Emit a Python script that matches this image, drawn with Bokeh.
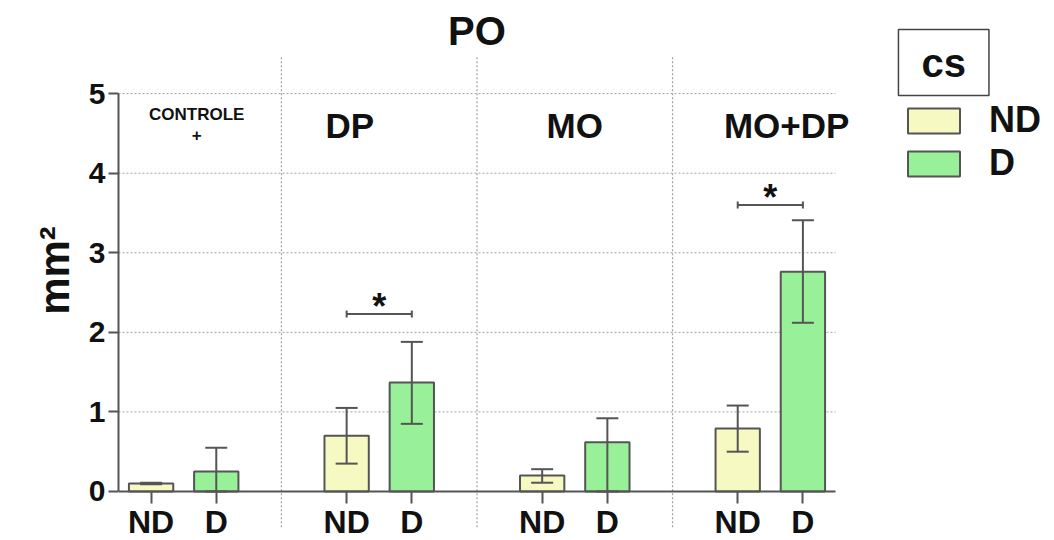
from bokeh.plotting import figure
from bokeh.models import (Range1d, FixedTicker, Whisker, TeeHead, Label,
                          Legend, LegendItem, ColumnDataSource)
from bokeh.embed import file_html
from bokeh.resources import INLINE
from bokeh.core.properties import value

# ---------------- data ----------------
groups = ["CONTROLE\n+", "DP", "MO", "MO+DP"]
conditions = ["ND", "D"]
nd_mean = [0.10, 0.70, 0.20, 0.79]
nd_low = [0.09, 0.35, 0.11, 0.50]
nd_high = [0.11, 1.05, 0.28, 1.08]
d_mean = [0.25, 1.37, 0.62, 2.76]
d_low = [0.00, 0.85, 0.00, 2.12]
d_high = [0.55, 1.88, 0.92, 3.41]
sig_groups = [1, 3]
sig_level = [2.23, 3.60]
y_ticks = [0, 1, 2, 3, 4, 5]
title_text = "PO"
legend_title = "cs"
y_label = "mm²"

# ---------------- layout / style ----------------
FONT = "Liberation Sans"
ND_COLOR = "#f6f9c2"
D_COLOR = "#98f098"
EDGE = "#555555"
GRID = "#a0a0a0"
TXT = "#111111"
gap = 3
bar_w = 0.68
group_label_size = ["17px", "35px", "35px", "35px"]
group_label_shift = [0.2, -0.45, 0.0, 0.25]
group_label_y = 4.6
sep_top, sep_bottom = 5.46, -0.45

n = len(groups)
nd_x = [g * gap for g in range(n)]
d_x = [g * gap + 1 for g in range(n)]
sep_x = [g * gap - 1 for g in range(1, n)]
x_lo, x_axis_hi = -0.5, (n - 1) * gap + 1.5
x_view_hi = 13.86
y_view_lo, y_view_hi = -0.616, 6.17

p = figure(width=1054, height=540, output_backend="svg", toolbar_location=None,
           x_range=Range1d(x_lo, x_view_hi), y_range=Range1d(y_view_lo, y_view_hi),
           min_border_left=118, min_border_right=0, min_border_top=0,
           min_border_bottom=0)
p.outline_line_color = None
p.background_fill_color = "white"
p.border_fill_color = "white"
p.xgrid.visible = False
p.ygrid.visible = False

# horizontal dotted grid lines (limited to the axis extent)
p.segment(x0=[x_lo] * (len(y_ticks) - 1), x1=[x_axis_hi] * (len(y_ticks) - 1),
          y0=y_ticks[1:], y1=y_ticks[1:], line_color=GRID, line_dash="2 2",
          line_width=1)
# group separators
p.segment(x0=sep_x, x1=sep_x, y0=[sep_bottom] * len(sep_x),
          y1=[sep_top] * len(sep_x), line_color=GRID, line_dash="2 2",
          line_width=1.2)

# bars
src_nd = ColumnDataSource(dict(x=nd_x, top=nd_mean, low=nd_low, high=nd_high))
src_d = ColumnDataSource(dict(x=d_x, top=d_mean, low=d_low, high=d_high))
r_nd = p.vbar(x="x", top="top", width=bar_w, bottom=0, source=src_nd,
              fill_color=ND_COLOR, line_color=EDGE, line_width=2)
r_d = p.vbar(x="x", top="top", width=bar_w, bottom=0, source=src_d,
             fill_color=D_COLOR, line_color=EDGE, line_width=2)

# error bars
for src in (src_nd, src_d):
    p.add_layout(Whisker(base="x", lower="low", upper="high", source=src,
                         level="overlay", line_color=EDGE, line_width=2,
                         upper_head=TeeHead(size=22, line_color=EDGE, line_width=2),
                         lower_head=TeeHead(size=22, line_color=EDGE, line_width=2)))

# significance brackets
sig_src = ColumnDataSource(dict(
    y=sig_level,
    x0=[nd_x[g] for g in sig_groups],
    x1=[d_x[g] for g in sig_groups],
    xm=[(nd_x[g] + d_x[g]) / 2 for g in sig_groups],
    ys=[v + 0.10 for v in sig_level],
    t=["*"] * len(sig_groups)))
p.add_layout(Whisker(base="y", lower="x0", upper="x1", dimension="width",
                     source=sig_src, level="overlay", line_color=EDGE, line_width=2,
                     upper_head=TeeHead(size=7, line_color=EDGE, line_width=2),
                     lower_head=TeeHead(size=7, line_color=EDGE, line_width=2)))
p.text(x="xm", y="ys", text="t", source=sig_src, text_align="center",
       text_baseline="alphabetic", text_font=value(FONT), text_font_style="bold",
       text_font_size="36px", text_color=TXT)

# group labels
gl_src = ColumnDataSource(dict(
    x=[g * gap + 0.5 + s for g, s in zip(range(n), group_label_shift)],
    y=[group_label_y] * n, t=groups, size=group_label_size))
p.text(x="x", y="y", text="t", source=gl_src, text_align="center",
       text_baseline="middle", text_font=value(FONT), text_font_style="bold",
       text_font_size="size", text_color=TXT, text_line_height=1.1)

# title
p.add_layout(Label(x=(x_lo + x_axis_hi) / 2, y=5.79, text=title_text,
                   text_align="center", text_baseline="middle", text_font=FONT,
                   text_font_style="bold", text_font_size="40px", text_color=TXT))

# legend header box
p.add_layout(Label(x=12.16, y=5.39, text=legend_title, text_align="center",
                   text_baseline="middle", text_font=FONT, text_font_style="bold",
                   text_font_size="40px", text_color=TXT,
                   border_line_color="#444444", border_line_width=1.5,
                   background_fill_color="white", padding=(23, 11)))

legend = Legend(items=[LegendItem(label=conditions[0], renderers=[r_nd]),
                       LegendItem(label=conditions[1], renderers=[r_d])],
                location=(783, 356), glyph_width=65, glyph_height=31,
                label_text_font=FONT, label_text_font_style="bold",
                label_text_font_size="36px", label_text_color=TXT,
                label_standoff=23, spacing=1, padding=0, margin=0,
                border_line_alpha=0, background_fill_alpha=0)
p.add_layout(legend)

# axes
xax = p.xaxis[0]
xax.fixed_location = 0
xax.bounds = (x_lo, x_axis_hi)
xax.ticker = FixedTicker(ticks=sorted(nd_x + d_x))
xax.major_label_overrides = {**{x: conditions[0] for x in nd_x},
                             **{x: conditions[1] for x in d_x}}
xax.major_label_text_font = FONT
xax.major_label_text_font_style = "bold"
xax.major_label_text_font_size = "32px"
xax.major_label_text_color = TXT
xax.major_label_standoff = 1
xax.axis_line_color = EDGE
xax.axis_line_width = 2
xax.major_tick_out = 12
xax.major_tick_in = 0
xax.major_tick_line_color = EDGE
xax.major_tick_line_width = 2
xax.minor_tick_line_color = None

yax = p.yaxis[0]
yax.ticker = FixedTicker(ticks=y_ticks)
yax.bounds = (y_ticks[0], y_ticks[-1])
yax.major_label_text_font = FONT
yax.major_label_text_font_style = "bold"
yax.major_label_text_font_size = "30px"
yax.major_label_text_color = TXT
yax.major_label_standoff = 3
yax.axis_line_color = EDGE
yax.axis_line_width = 2
yax.major_tick_out = 10
yax.major_tick_in = 0
yax.major_tick_line_color = EDGE
yax.major_tick_line_width = 2
yax.minor_tick_line_color = None
yax.axis_label = y_label
yax.axis_label_text_font = FONT
yax.axis_label_text_font_style = "bold"
yax.axis_label_text_font_size = "42px"
yax.axis_label_text_color = TXT
yax.axis_label_standoff = 8

open("out.html", "w").write(file_html(p, INLINE))
